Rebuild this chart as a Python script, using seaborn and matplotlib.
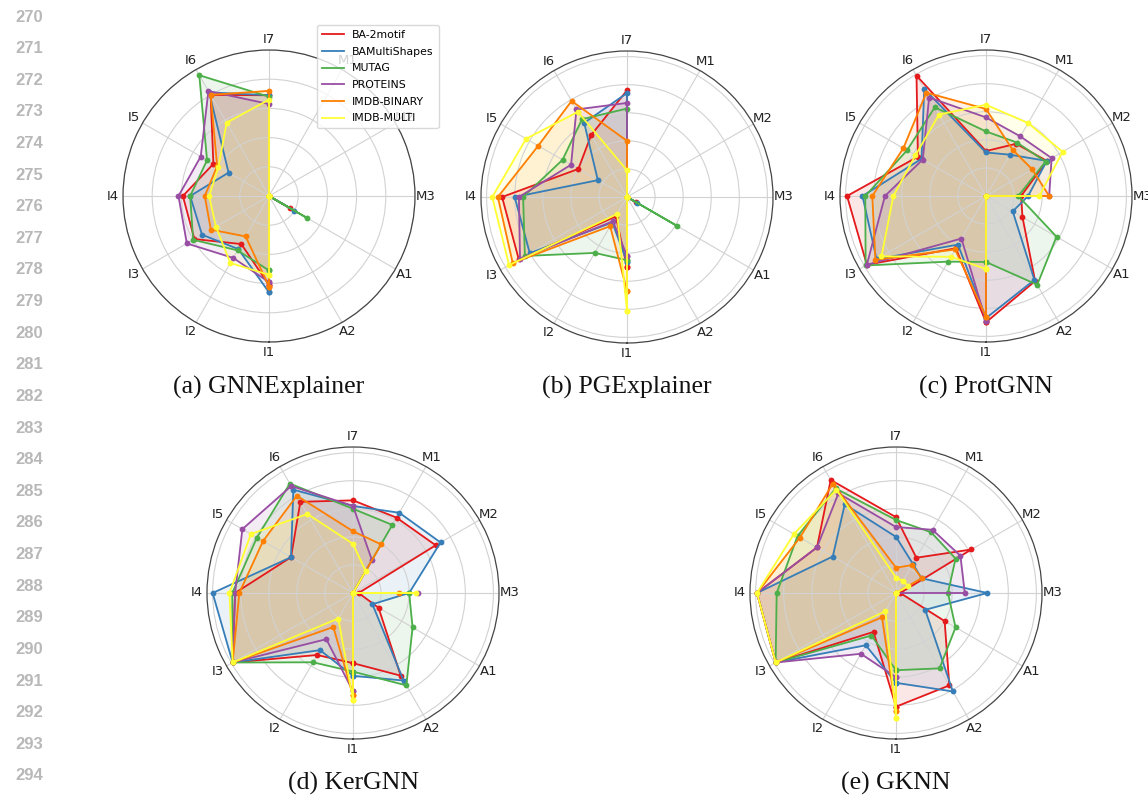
import numpy as np
import pandas as pd
import matplotlib
matplotlib.use("Agg")
import matplotlib.pyplot as plt
from matplotlib.lines import Line2D
import seaborn as sns

# Evaluation criteria (axes of every radar) and datasets (one polygon each)
categories = ["I1", "I2", "I3", "I4", "I5", "I6", "I7", "M1", "M2", "M3", "A1", "A2"]
datasets = ["BA-2motif", "BAMultiShapes", "MUTAG", "PROTEINS", "IMDB-BINARY", "IMDB-MULTI"]

# Scores per explainer: one row per dataset, columns follow `categories`
gnnexplainer = [
    [0.61, 0.38, 0.59, 0.59, 0.44, 0.80, 0.69, 0.00, 0.00, 0.00, 0.17, 0.00],
    [0.66, 0.42, 0.53, 0.54, 0.32, 0.82, 0.69, 0.00, 0.00, 0.00, 0.20, 0.00],
    [0.51, 0.43, 0.60, 0.54, 0.49, 0.955, 0.68, 0.00, 0.00, 0.00, 0.30, 0.00],
    [0.59, 0.49, 0.65, 0.62, 0.54, 0.83, 0.63, 0.00, 0.00, 0.00, 0.00, 0.00],
    [0.62, 0.32, 0.46, 0.44, 0.41, 0.80, 0.72, 0.00, 0.00, 0.00, 0.00, 0.00],
    [0.54, 0.53, 0.42, 0.41, 0.40, 0.58, 0.66, 0.00, 0.00, 0.00, 0.00, 0.00],
]
pgexplainer = [
    [0.50, 0.16, 0.89, 0.89, 0.40, 0.51, 0.76, 0.00, 0.00, 0.00, 0.07, 0.00],
    [0.46, 0.21, 0.80, 0.80, 0.24, 0.61, 0.74, 0.00, 0.00, 0.00, 0.08, 0.00],
    [0.45, 0.46, 0.84, 0.74, 0.53, 0.64, 0.63, 0.00, 0.00, 0.00, 0.41, 0.00],
    [0.42, 0.20, 0.88, 0.77, 0.46, 0.72, 0.67, 0.00, 0.00, 0.00, 0.00, 0.00],
    [0.67, 0.24, 0.94, 0.92, 0.73, 0.79, 0.40, 0.00, 0.00, 0.00, 0.00, 0.00],
    [0.81, 0.14, 0.97, 0.96, 0.83, 0.70, 0.19, 0.00, 0.00, 0.00, 0.00, 0.00],
]
protgnn = [
    [0.90, 0.43, 0.98, 0.99, 0.56, 0.99, 0.32, 0.43, 0.50, 0.25, 0.30, 0.70],
    [0.87, 0.40, 0.90, 0.88, 0.53, 0.88, 0.31, 0.34, 0.50, 0.30, 0.22, 0.69],
    [0.47, 0.54, 0.99, 0.86, 0.65, 0.73, 0.46, 0.44, 0.49, 0.23, 0.58, 0.73],
    [0.89, 0.35, 0.98, 0.72, 0.52, 0.81, 0.56, 0.49, 0.54, 0.45, 0.00, 0.00],
    [0.86, 0.44, 0.91, 0.81, 0.68, 0.85, 0.62, 0.38, 0.38, 0.45, 0.00, 0.00],
    [0.52, 0.50, 0.86, 0.66, 0.58, 0.67, 0.65, 0.60, 0.63, 0.38, 0.00, 0.00],
]
kergnn = [
    [0.50, 0.51, 0.99, 0.84, 0.51, 0.75, 0.66, 0.62, 0.68, 0.04, 0.21, 0.68],
    [0.59, 0.47, 0.99, 1.00, 0.51, 0.85, 0.62, 0.66, 0.72, 0.40, 0.16, 0.72],
    [0.56, 0.57, 0.99, 0.86, 0.79, 0.90, 0.60, 0.56, 0.00, 0.40, 0.49, 0.76],
    [0.70, 0.38, 0.99, 0.84, 0.91, 0.88, 0.62, 0.27, 0.00, 0.46, 0.00, 0.00],
    [0.73, 0.28, 0.99, 0.81, 0.74, 0.80, 0.44, 0.40, 0.00, 0.33, 0.00, 0.00],
    [0.76, 0.21, 0.99, 0.88, 0.84, 0.65, 0.35, 0.18, 0.00, 0.45, 0.00, 0.00],
]
gknn = [
    [0.81, 0.32, 0.99, 0.99, 0.65, 0.93, 0.54, 0.29, 0.62, 0.03, 0.40, 0.76],
    [0.64, 0.43, 0.99, 0.99, 0.52, 0.73, 0.40, 0.24, 0.21, 0.65, 0.24, 0.81],
    [0.55, 0.35, 0.99, 0.85, 0.81, 0.86, 0.52, 0.50, 0.49, 0.37, 0.49, 0.62],
    [0.60, 0.50, 0.99, 0.99, 0.65, 0.82, 0.47, 0.52, 0.53, 0.49, 0.00, 0.00],
    [0.84, 0.20, 0.99, 0.99, 0.79, 0.90, 0.18, 0.23, 0.21, 0.00, 0.00, 0.00],
    [0.89, 0.15, 0.99, 0.99, 0.84, 0.85, 0.11, 0.10, 0.10, 0.00, 0.00, 0.00],
]

panels = [
    ("(a) GNNExplainer", gnnexplainer),
    ("(b) PGExplainer", pgexplainer),
    ("(c) ProtGNN", protgnn),
    ("(d) KerGNN", kergnn),
    ("(e) GKNN", gknn),
]

W, H = 1148, 799
palette = sns.color_palette("Set1", len(datasets))

fig = plt.figure(figsize=(W / 100, H / 100), dpi=100)

# centre (px), outer radius limit for each radar
layout = [
    ((269, 196), 1.0),
    ((627, 197), 1.04),
    ((986, 196), 1.04),
    ((353, 593), 1.04),
    ((896, 593), 1.04),
]
R_PX = 146
caption_y = [387, 387, 387, 783, 783]

n = len(categories)
theta = np.arange(n) * 2 * np.pi / n
theta_closed = np.append(theta, 2 * np.pi)

for (caption, scores), ((cx, cy), rmax), capy in zip(panels, layout, caption_y):
    ax = fig.add_axes([(cx - R_PX) / W, 1 - (cy + R_PX) / H, 2 * R_PX / W, 2 * R_PX / H],
                      projection="polar")
    ax.set_theta_offset(-np.pi / 2)
    ax.set_theta_direction(-1)

    for row, name, color in zip(scores, datasets, palette):
        r_closed = np.append(row, row[0])
        df = pd.DataFrame({"theta": theta_closed, "score": r_closed})
        ax.fill(theta_closed, r_closed, color=color, alpha=0.1, zorder=1)
        sns.lineplot(data=df, x="theta", y="score", sort=False, estimator=None,
                     color=color, linewidth=1.3, marker="o", markersize=4.2,
                     markeredgewidth=0, ax=ax, zorder=3)

    ax.set_xlabel("")
    ax.set_ylabel("")
    ax.set_xticks(theta)
    ax.set_xticklabels(categories, fontsize=9.5, color="#222222")
    ax.tick_params(axis="x", pad=-3)
    ax.set_yticks([0.2, 0.4, 0.6, 0.8, 1.0])
    ax.set_yticklabels([])
    ax.set_ylim(0, rmax)
    ax.grid(True, color="#d2d2d2", linewidth=0.8)
    ax.spines["polar"].set_color("#444444")
    ax.spines["polar"].set_linewidth(0.9)

    fig.text(cx / W, 1 - capy / H, caption, ha="center", va="center",
             family="Liberation Serif", fontsize=18.5, color="#111111")

handles = [Line2D([0], [0], color=c, linewidth=1.3) for c in palette]
fig.legend(handles, datasets, loc="upper left", bbox_to_anchor=(317 / W, 1 - 25 / H),
           borderaxespad=0, fontsize=7.8, frameon=True, framealpha=0.8,
           edgecolor="#d0d0d0", handlelength=2.0, borderpad=0.45, labelspacing=0.62)

# manuscript line numbers in the margin
for i in range(25):
    fig.text(29 / W, 1 - (17 + 31.62 * i) / H, str(270 + i), ha="center", va="center",
             family="Liberation Sans", fontsize=12, fontweight="bold", color="#b8b8b8")

fig.savefig("out.png", dpi=100)
